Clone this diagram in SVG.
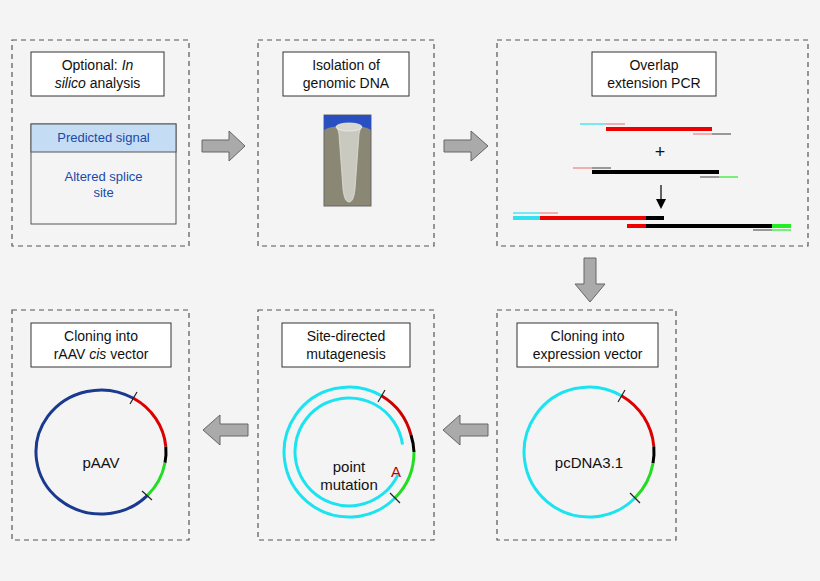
<svg xmlns="http://www.w3.org/2000/svg" width="820" height="581" viewBox="0 0 820 581">
<style>
text{font-family:"Liberation Sans",Arial,sans-serif;font-size:14px;fill:#111;text-anchor:middle}
.panel{fill:none;stroke:#555;stroke-width:1.2;stroke-dasharray:5,4}
.title{fill:#fff;stroke:#333;stroke-width:1}
.blk{fill:#aaa;stroke:#666;stroke-width:1}
.tk{stroke-width:4;fill:none}
.tn{stroke-width:1.3;fill:none}
.tick{stroke:#222;stroke-width:1.2}
</style>
<rect width="820" height="581" fill="#f4f4f4"/>
<g id="p1">
<rect class="panel" x="12" y="40" width="177" height="206"/>
<rect class="title" x="31" y="52" width="133" height="44"/>
<text x="97.5" y="70">Optional: <tspan font-style="italic">In</tspan></text>
<text x="97.5" y="88"><tspan font-style="italic">silico</tspan> analysis</text>
<rect x="31" y="124" width="145" height="100" fill="#f4f4f4" stroke="#555"/>
<rect x="31" y="124" width="145" height="28" fill="#c5dcf5" stroke="#555"/>
<text x="103.5" y="142" style="font-size:13px;fill:#1a4aa8">Predicted signal</text>
<text x="103.5" y="181" style="font-size:13px;fill:#1a4aa8">Altered splice</text>
<text x="103.5" y="197" style="font-size:13px;fill:#1a4aa8">site</text>
</g>
<g id="p2">
<rect class="panel" x="258" y="40" width="176" height="206"/>
<rect class="title" x="283" y="52" width="126" height="44"/>
<text x="346" y="70">Isolation of</text>
<text x="346" y="88">genomic DNA</text>
<rect x="324" y="115" width="47" height="91" fill="#8a8874" stroke="#666"/>
<path d="M324 115h47v15c-8-6-38-6-47 0z" fill="#2a4fc0"/>
<path d="M337 126h24l-2 8-4 55c-1 9-3 13-6 13s-5-4-6-13l-4-55-2-8z" fill="#c9c9c0" stroke="#e0e0d8" stroke-width="0.8"/>
<ellipse cx="349" cy="127" rx="13" ry="4" fill="#d8d8d0" stroke="#eee" stroke-width="0.8"/>
</g>
<g id="p3">
<rect class="panel" x="497" y="40" width="311" height="206"/>
<rect class="title" x="592" y="52" width="124" height="44"/>
<text x="654" y="70">Overlap</text>
<text x="654" y="88">extension PCR</text>
<line class="tn" style="stroke:#33e0ee" x1="580" y1="124" x2="606" y2="124"/>
<line class="tn" style="stroke:#e88" x1="606" y1="124" x2="625" y2="124"/>
<line class="tk" style="stroke:#e00" x1="606" y1="129" x2="712" y2="129"/>
<line class="tn" style="stroke:#e88" x1="693" y1="134" x2="712" y2="134"/>
<line class="tn" style="stroke:#666" x1="712" y1="134" x2="731" y2="134"/>
<text x="660" y="158" style="font-size:18px">+</text>
<line class="tn" style="stroke:#e88" x1="573" y1="168" x2="592" y2="168"/>
<line class="tn" style="stroke:#666" x1="592" y1="168" x2="611" y2="168"/>
<line class="tk" style="stroke:#000" x1="592" y1="172" x2="719" y2="172"/>
<line class="tn" style="stroke:#666" x1="700" y1="177" x2="719" y2="177"/>
<line class="tn" style="stroke:#3e3" x1="719" y1="177" x2="738" y2="177"/>
<line x1="661" y1="185" x2="661" y2="200" stroke="#000" stroke-width="1.2"/>
<path d="M656 199l5 10 5-10z"/>
<line class="tn" style="stroke:#33e0ee" x1="513" y1="213" x2="540" y2="213"/>
<line class="tn" style="stroke:#e88" x1="540" y1="213" x2="558" y2="213"/>
<line class="tk" style="stroke:#33e0ee" x1="513" y1="218" x2="540" y2="218"/>
<line class="tk" style="stroke:#e00" x1="540" y1="218" x2="646" y2="218"/>
<line class="tk" style="stroke:#000" x1="646" y1="218" x2="664" y2="218"/>
<line class="tk" style="stroke:#e00" x1="627" y1="226" x2="646" y2="226"/>
<line class="tk" style="stroke:#000" x1="646" y1="226" x2="772" y2="226"/>
<line class="tk" style="stroke:#2e2" x1="772" y1="226" x2="791" y2="226"/>
<line class="tn" style="stroke:#666" x1="753" y1="230" x2="772" y2="230"/>
<line class="tn" style="stroke:#3e3" x1="772" y1="230" x2="791" y2="230"/>
</g>
<g id="p4">
<rect class="panel" x="12" y="310" width="177" height="230"/>
<rect class="title" x="31" y="323" width="140" height="44"/>
<text x="101" y="341">Cloning into</text>
<text x="101" y="359">rAAV <tspan font-style="italic">cis</tspan> vector</text>
<path d="M147 495.8A65 62 0 1 1 133.5 398.3" fill="none" stroke="#1a3a8f" stroke-width="3"/>
<path d="M133.5 398.3A65 62 0 0 1 165.8 446.6" fill="none" stroke="#d00" stroke-width="3"/>
<path d="M165.8 446.6A65 62 0 0 1 165 462.8" fill="none" stroke="#000" stroke-width="3"/>
<path d="M165 462.8A65 62 0 0 1 147 495.8" fill="none" stroke="#2d2" stroke-width="3"/>
<line class="tick" x1="130" y1="404" x2="137" y2="392"/>
<line class="tick" x1="142" y1="491" x2="152" y2="500"/>
<text x="101" y="468" style="font-size:15px">pAAV</text>
</g>
<g id="p5">
<rect class="panel" x="258" y="310" width="176" height="230"/>
<rect class="title" x="282" y="323" width="128" height="44"/>
<text x="346" y="341">Site-directed</text>
<text x="346" y="359">mutagenesis</text>
<path d="M395 498A65 65 0 1 1 381.5 395.7" fill="none" stroke="#1de3f0" stroke-width="3"/>
<path d="M381.5 395.7A65 65 0 0 1 411 435" fill="none" stroke="#c00" stroke-width="3"/>
<path d="M411 435A65 65 0 0 1 414 452" fill="none" stroke="#000" stroke-width="3"/>
<path d="M414 452A65 65 0 0 1 395 498" fill="none" stroke="#2d2" stroke-width="3"/>
<path d="M397.9 474.8A54 54 0 1 1 402.5 444.5" fill="none" stroke="#1de3f0" stroke-width="3"/>
<line class="tick" x1="378" y1="402" x2="385" y2="390"/>
<line class="tick" x1="390" y1="493" x2="400" y2="503"/>
<text x="349" y="472" style="font-size:15px">point</text>
<text x="349" y="490" style="font-size:15px">mutation</text>
<text x="396" y="477" style="font-size:15px;fill:#b00">A</text>
</g>
<g id="p6">
<rect class="panel" x="497" y="310" width="179" height="230"/>
<rect class="title" x="517" y="323" width="141" height="44"/>
<text x="587.5" y="341">Cloning into</text>
<text x="587.5" y="359">expression vector</text>
<path d="M635 498A65 65 0 1 1 621.5 395.7" fill="none" stroke="#1de3f0" stroke-width="3"/>
<path d="M621.5 395.7A65 65 0 0 1 653.8 446.3" fill="none" stroke="#d00" stroke-width="3"/>
<path d="M653.8 446.3A65 65 0 0 1 653 463.3" fill="none" stroke="#000" stroke-width="3"/>
<path d="M653 463.3A65 65 0 0 1 635 498" fill="none" stroke="#2d2" stroke-width="3"/>
<line class="tick" x1="618" y1="402" x2="625" y2="390"/>
<line class="tick" x1="630" y1="493" x2="640" y2="503"/>
<text x="589" y="468" style="font-size:15px">pcDNA3.1</text>
</g>
<g id="connectors">
<path class="blk" d="M202 140h27v-9l16 15-16 15v-9h-27z"/>
<path class="blk" d="M444 140h27v-9l17 15-17 15v-9h-27z"/>
<path class="blk" d="M584 258h12v26h9l-15 18-15-18h9z"/>
<path class="blk" d="M248 424h-28v-9l-17 15 17 15v-9h28z"/>
<path class="blk" d="M488 424h-28v-9l-17 15 17 15v-9h28z"/>
</g>
</svg>
